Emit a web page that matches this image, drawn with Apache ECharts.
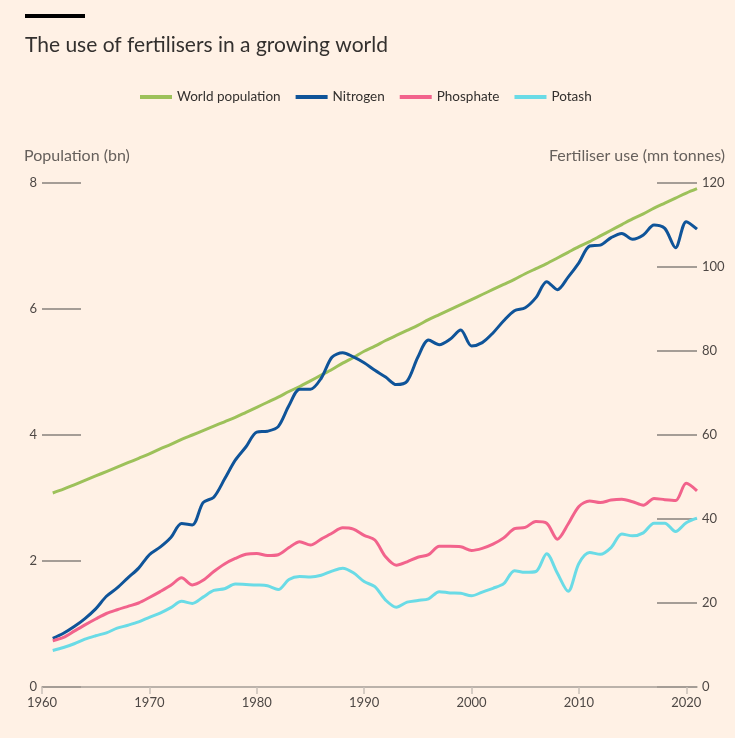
<!DOCTYPE html>
<html>
<head>
<meta charset="utf-8">
<title>The use of fertilisers in a growing world</title>
<script src="https://cdn.jsdelivr.net/npm/echarts@6/dist/echarts.min.js"></script>
<style>
    html, body { margin: 0; padding: 0; background: #fff1e5; }
    #chart { width: 735px; height: 738px; }
</style>
</head>
<body>
<div id="chart"></div>
<script>
// years 1961-2021
var years = [];
for (var y = 1961; y <= 2021; y++) years.push(y);

// world population, bn
var population = [3.08, 3.14, 3.21, 3.28, 3.35, 3.42, 3.49, 3.56, 3.63, 3.70,
    3.78, 3.85, 3.93, 4.00, 4.07, 4.14, 4.21, 4.28, 4.36, 4.44,
    4.52, 4.60, 4.69, 4.77, 4.86, 4.95, 5.04, 5.14, 5.23, 5.33,
    5.41, 5.50, 5.58, 5.66, 5.74, 5.83, 5.91, 5.99, 6.07, 6.15,
    6.23, 6.31, 6.39, 6.47, 6.56, 6.64, 6.72, 6.81, 6.90, 6.99,
    7.07, 7.16, 7.25, 7.34, 7.43, 7.51, 7.60, 7.68, 7.76, 7.84, 7.91];

// fertiliser use, mn tonnes
var nitrogen = [11.6, 12.8, 14.4, 16.3, 18.6, 21.6, 23.6, 26.0, 28.3, 31.5,
    33.3, 35.6, 38.9, 38.6, 43.9, 45.2, 49.5, 54.0, 57.2, 60.7,
    60.9, 62.0, 67.0, 70.9, 70.9, 73.5, 78.5, 79.6, 78.6, 77.2,
    75.4, 73.8, 72.0, 72.8, 78.5, 82.6, 81.5, 82.8, 85.0, 81.2,
    82.0, 84.3, 87.2, 89.6, 90.3, 92.7, 96.5, 94.6, 97.6, 101.0,
    105.0, 105.2, 107.0, 108.0, 106.6, 107.6, 110.0, 109.2, 104.6, 110.8, 109.0];

var phosphate = [11.0, 11.8, 13.3, 14.8, 16.2, 17.5, 18.4, 19.2, 20.0, 21.3,
    22.7, 24.2, 26.0, 24.3, 25.4, 27.5, 29.3, 30.6, 31.6, 31.8,
    31.3, 31.5, 33.2, 34.6, 33.8, 35.2, 36.6, 37.9, 37.6, 36.1,
    35.0, 31.0, 29.0, 29.8, 30.9, 31.5, 33.5, 33.5, 33.4, 32.5,
    33.0, 34.0, 35.5, 37.7, 38.0, 39.4, 39.0, 35.2, 38.8, 43.0,
    44.3, 43.9, 44.5, 44.7, 44.1, 43.3, 44.9, 44.6, 44.4, 48.5, 46.7];

var potash = [8.7, 9.4, 10.3, 11.4, 12.2, 12.9, 14.0, 14.7, 15.5, 16.6,
    17.6, 18.9, 20.4, 19.9, 21.4, 23.0, 23.4, 24.5, 24.4, 24.3,
    24.1, 23.2, 25.6, 26.3, 26.2, 26.6, 27.6, 28.3, 27.2, 25.1,
    23.9, 20.7, 19.0, 20.2, 20.6, 21.0, 22.7, 22.4, 22.3, 21.7,
    22.6, 23.5, 24.6, 27.7, 27.3, 27.5, 31.7, 27.1, 22.8, 29.4,
    32.0, 31.6, 33.2, 36.4, 36.0, 36.7, 39.0, 39.0, 37.0, 39.1, 40.2];

var xTicks = [1960, 1970, 1980, 1990, 2000, 2010, 2020];

function pairs(arr) {
    return arr.map(function (v, i) { return [years[i], v]; });
}

var font = 'Lato, "Noto Sans", sans-serif';
var tickColor = '#a59d96';
var labelColor = '#4e4845';

function makeLine(name, data, color, axis) {
    return {
        name: name,
        type: 'line',
        yAxisIndex: axis,
        data: pairs(data),
        smooth: 0.3,
        symbol: 'none',
        lineStyle: {color: color, width: 3},
        itemStyle: {color: color}
    };
}

var chart = echarts.init(document.getElementById('chart'));
chart.setOption({
    backgroundColor: '#fff1e5',
    textStyle: {fontFamily: font},
    title: {
        text: 'The use of fertilisers in a growing world',
        left: 20,
        top: 30,
        textStyle: {fontFamily: font, fontSize: 21, fontWeight: 'normal', color: '#33302e'}
    },
    graphic: [
        {type: 'rect', left: 25, top: 14, shape: {width: 60, height: 4}, style: {fill: '#000'}},
        {type: 'text', left: 24, top: 148, style: {text: 'Population (bn)', font: '16px ' + font, fill: '#66605c'}},
        {type: 'text', right: 10, top: 148, style: {text: 'Fertiliser use (mn tonnes)', font: '16px ' + font, fill: '#66605c'}}
    ],
    legend: {
        top: 85,
        left: 135,
        icon: 'rect',
        itemWidth: 32,
        itemHeight: 4,
        itemGap: 15,
        textStyle: {fontFamily: font, fontSize: 13.5, color: '#33302e'},
        data: ['World population', 'Nitrogen', 'Phosphate', 'Potash']
    },
    grid: {left: 42, right: 38, top: 183, bottom: 51},
    xAxis: {
        type: 'value',
        min: 1960,
        max: 2021,
        interval: 10,
        splitLine: {show: false},
        axisLine: {lineStyle: {color: '#a59d96', width: 1.5}},
        axisTick: {length: 7, lineStyle: {color: '#c9c0b8', width: 1.5}, customValues: xTicks},
        axisLabel: {
            color: labelColor, fontSize: 13, margin: 9, fontFamily: font,
            customValues: xTicks,
            formatter: function (v) { return String(v); }
        }
    },
    yAxis: [
        {
            type: 'value',
            min: 0, max: 8, interval: 2,
            splitLine: {show: false},
            axisLine: {show: false},
            axisTick: {show: true, inside: true, length: 39, lineStyle: {color: tickColor, width: 2}},
            axisLabel: {color: labelColor, fontSize: 13, margin: 5, fontFamily: font}
        },
        {
            type: 'value',
            min: 0, max: 120, interval: 20,
            splitLine: {show: false},
            axisLine: {show: false},
            axisTick: {show: true, inside: true, length: 40, lineStyle: {color: tickColor, width: 2}},
            axisLabel: {color: labelColor, fontSize: 13, margin: 5, fontFamily: font}
        }
    ],
    series: [
        makeLine('World population', population, '#9dc15a', 0),
        makeLine('Nitrogen', nitrogen, '#0f5499', 1),
        makeLine('Phosphate', phosphate, '#f2638c', 1),
        makeLine('Potash', potash, '#6adbe6', 1)
    ]
});
</script>
</body>
</html>
